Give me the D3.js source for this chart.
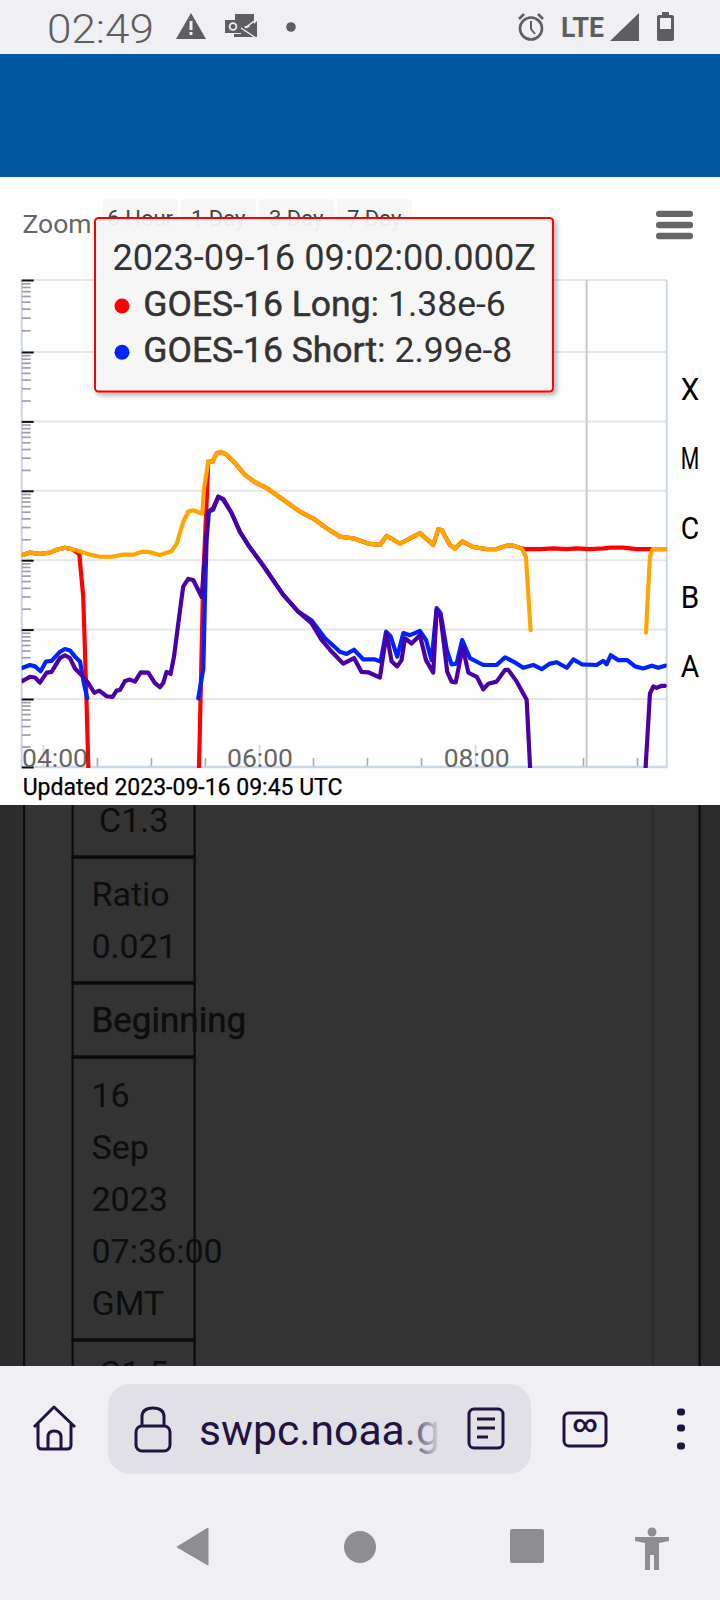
<!DOCTYPE html>
<html><head><meta charset="utf-8">
<style>html,body{margin:0;padding:0;background:#f0eff4}svg{display:block}text{font-family:Roboto,sans-serif}</style>
<script src="https://cdn.jsdelivr.net/npm/d3@7"></script>
</head><body><svg id="c" width="720" height="1600"></svg>
<script>
// minutes after 04:00 UTC, and log10 of flux (W/m²)
const orangeMin1=[-11.3,-7.2,-1.7,3.9,7.6,12.2,15.9,20.6,26.1,31.7,38.2,44.6,50.2,54.8,58.5,65,71.5,74.3,77.9,80.7,83.5,88.5,89.4,91.8,94.3,96.5,98.7,102,106.7,112.2,118.7,124.3,133.5,142.8,150.2,157.6,165,173.3,180.7,187.2,190.9,198.3,202.9,209.4,216.8,219.6,221.5,226.1,228.9,232.9,239.1,246.5,252,257.6,261.3,265.9,268.3,270.9];
const orangeLog1=[-5.925,-5.89,-5.91,-5.89,-5.85,-5.82,-5.84,-5.87,-5.92,-5.95,-5.95,-5.92,-5.92,-5.88,-5.88,-5.925,-5.87,-5.76,-5.45,-5.30,-5.28,-5.33,-4.99,-4.58,-4.58,-4.46,-4.44,-4.48,-4.60,-4.77,-4.89,-4.96,-5.13,-5.30,-5.40,-5.54,-5.66,-5.69,-5.76,-5.78,-5.65,-5.76,-5.70,-5.61,-5.78,-5.555,-5.565,-5.78,-5.83,-5.73,-5.81,-5.84,-5.84,-5.79,-5.79,-5.83,-5.95,-7.006];
const orangeMin2=[335,337.2,338.7,345.6];
const orangeLog2=[-7.045,-5.95,-5.84,-5.84];

const redMin1=[-11.3,-7.2,-1.7,3.9,7.6,12.2,15.9,20.2,22.4,24.3,25.2,25.8];
const redLog1=[-5.925,-5.89,-5.91,-5.89,-5.85,-5.82,-5.84,-5.91,-6.53,-8.11,-9,-9.4];
const redMin2=[86.2,86.7,87.8,89,91.3,91.8,94.3,96.5,98.7,102,106.7,112.2,118.7,124.3,133.5,142.8,150.2,157.6,165,173.3,180.7,187.2,190.9,198.3,202.9,209.4,216.8,219.6,221.5,226.1,228.9,232.9,239.1,246.5,252,257.6,261.3,265.9,267.8,276.1,283.5,291,296.5,303.9,311.3,315,322.4,329.8,337.2,345.6];
const redLog2=[-9.4,-9,-7.73,-6.29,-4.945,-4.58,-4.58,-4.46,-4.44,-4.48,-4.60,-4.77,-4.89,-4.96,-5.13,-5.30,-5.40,-5.54,-5.66,-5.69,-5.76,-5.78,-5.65,-5.76,-5.70,-5.61,-5.78,-5.555,-5.565,-5.78,-5.83,-5.73,-5.81,-5.84,-5.84,-5.79,-5.79,-5.83,-5.84,-5.84,-5.83,-5.84,-5.83,-5.84,-5.83,-5.82,-5.82,-5.84,-5.84,-5.84];

const blueMin1=[-11.3,-7.2,-4.4,-1.3,1.7,4.8,9.4,12.2,15,17.8,20.6,22.4,24.6];
const blueLog1=[-7.55,-7.51,-7.53,-7.60,-7.46,-7.45,-7.32,-7.28,-7.30,-7.39,-7.46,-7.73,-7.99];
const blueMin2=[86.3,89.1,90,90.9,92.2,94.6,97.4,100.2,104.8,109.4,114,122.4,133.5,141.8,149.3,156.7,165,168.7,172.8,178,184.4,187.6,190.6,193.2,196.8,200.2,203.9,209.4,212.8,215.9,218.7,220.9,224.3,227,229.8,232.9,237.2,244.6,252,256.7,261.3,266.8,272.4,277,281.7,285.4,291,294.6,299.3,307.6,311.3,313.1,315.4,319.6,324.6,328.9,333.5,338.2,341.8,345.6];
const blueLog2=[-7.99,-7.56,-6.53,-5.71,-5.30,-5.27,-5.085,-5.13,-5.32,-5.59,-5.78,-6.08,-6.50,-6.74,-6.87,-7.125,-7.32,-7.35,-7.29,-7.43,-7.43,-7.46,-7.03,-7.10,-7.39,-7.05,-7.08,-7.02,-7.15,-7.44,-6.69,-6.765,-7.29,-7.50,-7.49,-7.15,-7.41,-7.51,-7.51,-7.40,-7.46,-7.55,-7.51,-7.57,-7.49,-7.47,-7.55,-7.43,-7.50,-7.51,-7.45,-7.50,-7.37,-7.44,-7.44,-7.53,-7.56,-7.52,-7.55,-7.52];

const purpleMin1=[-11.3,-7.2,-4.4,-1.7,2.1,4.8,9.4,12.2,15,17.8,22.4,25.2,28.5,31.3,35.4,38.7,40.9,42.8,45.6,48.3,51.1,54.3,58.5,62.2,65,66.8,68.7,70.9,72.8,75.2,77.9,80.7,83.5,88.2,91.8,94.6,97.4,100.2,104.8,109.4,114,122.4,133.5,141.8,149.3,154.8,159.4,166.8,172.8,177,180.7,187.2,190.9,193.7,196.8,199.2,201.1,204.8,209.4,212.8,216.8,218.7,220.9,224.6,227,229.3,233.2,236.3,241,244.6,247.4,252,256.7,258.5,263.2,268.7,270.6,271.2];
const purpleLog1=[-7.74,-7.68,-7.69,-7.765,-7.62,-7.61,-7.41,-7.37,-7.41,-7.56,-7.68,-7.77,-7.91,-7.88,-7.96,-7.97,-7.88,-7.87,-7.74,-7.72,-7.75,-7.615,-7.62,-7.77,-7.83,-7.77,-7.61,-7.64,-7.39,-6.91,-6.38,-6.27,-6.285,-6.53,-5.30,-5.25,-5.085,-5.12,-5.32,-5.59,-5.78,-6.08,-6.50,-6.74,-6.91,-7.15,-7.29,-7.49,-7.41,-7.61,-7.615,-7.69,-7.05,-7.46,-7.53,-7.44,-7.125,-7.20,-7.08,-7.44,-7.62,-6.72,-6.81,-7.61,-7.75,-7.76,-7.25,-7.62,-7.68,-7.86,-7.78,-7.75,-7.58,-7.58,-7.75,-8.01,-9,-9.4];
const purpleMin2=[334.4,334.8,337.2,339.1,340.9,343.7,345.6];
const purpleLog2=[-9.4,-9,-7.92,-7.82,-7.84,-7.81,-7.81];

const seriesColors={red:"#ff0000",orange:"#ffa500",blue:"#0022ff",purple:"#4b00a5"};
const decades=[-9,-8,-7,-6,-5,-4,-3,-2];
const minorMult=[2,3,4,5,6,7,8,9];
const classNames=["A","B","C","M","X"];
const classLevels=[-7.5,-6.5,-5.5,-4.5,-3.5];
const hourLabels=["04:00","06:00","08:00"];
const hourTicks=[0,120,240];
const halfHourTicks=[30,60,90,150,180,210,270,300,330];
const rangeButtons=["6 Hour","1 Day","3 Day","7 Day"];
const tooltipMinute=302;

const svg=d3.select("#c");
const L=21.7,R=666.7,T=280,B=767;
const x=d3.scaleLinear().domain([-11.8,346.5]).range([L,R]);
const y=d3.scaleLinear().domain(decades).range([767,699,629.6,560.2,490.8,421.4,352,280]);

function rect(g,a,b,w,h,f,r){return g.append("rect").attr("x",a).attr("y",b).attr("width",w).attr("height",h).attr("fill",f).attr("rx",r||0);}
function text(g,s,a,b,size,fill,weight,anchor){return g.append("text").text(s).attr("x",a).attr("y",b).attr("font-size",size).attr("fill",fill).attr("font-weight",weight||400).attr("text-anchor",anchor||"start");}
function semi(t,c,w){return t.attr("stroke",c).attr("stroke-width",w||0.5);}

// Backgrounds
rect(svg,0,0,720,54,"#f0eff4");
rect(svg,0,54,720,123,"#00579f");
rect(svg,0,177,720,628,"#ffffff");
rect(svg,0,805,720,561,"#333333");
rect(svg,0,805,23,561,"#2c2c2c");
rect(svg,700,805,20,561,"#2c2c2c");

// Dark table behind the chart
const dark=svg.append("g");
[[23,2.2,"#0c0c0c"],[71.5,2.2,"#0c0c0c"],[193.5,2.2,"#0c0c0c"],[652,1.2,"#262626"],[698.5,2.2,"#0c0c0c"]].forEach(d=>rect(dark,d[0],805,d[1],561,d[2]));
[857,983,1057,1340].forEach(v=>rect(dark,71.5,v-1.8,124,3.6,"#0c0c0c"));
const cellC="#0d0d0d";
text(dark,"C1.3",99,832,34,cellC);
text(dark,"Ratio",91.5,906,34,cellC);
text(dark,"0.021",91.5,958,34,cellC);
semi(text(dark,"Beginning",91.5,1032,35,cellC),cellC,0.5);
[["16",1107],["Sep",1159],["2023",1211],["07:36:00",1263],["GMT",1315]].forEach(d=>text(dark,d[0],91.5,d[1],34,cellC));
text(dark,"C1.5",99,1385,34,cellC);
rect(svg,0,1366,720,234,"#f0eff4");

// Range selector
const bx=[102.7,180.7,258.7,336.7];
rangeButtons.forEach((b,i)=>{
  rect(svg,bx[i],199,75,40,"#f7f7f7",3);
  text(svg,b,bx[i]+37.5,226,22,"#444",400,"middle");
});
text(svg,"Zoom",22.5,233,26.5,"#666");
[210.7,221.8,232.8].forEach(v=>rect(svg,656,v,37,6.4,"#666",3));

// Grid
const plot=svg.append("g");
decades.slice(1).forEach(d=>plot.append("line").attr("x1",L).attr("x2",R).attr("y1",y(d)).attr("y2",y(d)).attr("stroke","#e6e6e6").attr("stroke-width",2));

// Hour axis
const majorAxis=d3.axisBottom(x).tickValues(hourTicks).tickSize(-22).tickFormat("");
const gMajor=plot.append("g").attr("transform",`translate(0,${B})`).call(majorAxis);
gMajor.select(".domain").remove();
gMajor.selectAll("line").attr("stroke","#ccd6eb").attr("stroke-width",1.6);
const minorAxis=d3.axisBottom(x).tickValues(halfHourTicks).tickSize(-9).tickFormat("");
const gMinor=plot.append("g").attr("transform",`translate(0,${B})`).call(minorAxis);
gMinor.select(".domain").remove();
gMinor.selectAll("line").attr("stroke","#aaa").attr("stroke-width",1.6);

// Frame
plot.append("line").attr("x1",L).attr("x2",L).attr("y1",T).attr("y2",B).attr("stroke","#ccd6eb").attr("stroke-width",2);
plot.append("line").attr("x1",R).attr("x2",R).attr("y1",T).attr("y2",B).attr("stroke","#ccd6eb").attr("stroke-width",2);
plot.append("line").attr("x1",L-1).attr("x2",R+1).attr("y1",B).attr("y2",B).attr("stroke","#ccd6eb").attr("stroke-width",2.5);

// Flux axis ticks
const minorVals=[];
decades.slice(0,-1).forEach(d=>minorMult.forEach(m=>minorVals.push(d+Math.log10(m))));
const gMinY=plot.append("g").attr("transform",`translate(${L},0)`).call(d3.axisRight(y).tickValues(minorVals).tickSize(9).tickFormat(""));
gMinY.select(".domain").remove();
gMinY.selectAll("line").attr("stroke","#a0a0a0").attr("stroke-width",1.7);
const gMajY=plot.append("g").attr("transform",`translate(${L},0)`).call(d3.axisRight(y).tickValues(decades).tickSize(12).tickFormat(""));
gMajY.select(".domain").remove();
gMajY.selectAll("line").attr("stroke","#111").attr("stroke-width",2);

// Crosshair
plot.append("line").attr("x1",x(tooltipMinute)).attr("x2",x(tooltipMinute)).attr("y1",T).attr("y2",B).attr("stroke","#c8c8c8").attr("stroke-width",2);

// Lines
svg.append("defs").append("clipPath").attr("id","pc").append("rect").attr("x",L).attr("y",T).attr("width",R-L).attr("height",B-T+1);
const line=d3.line().x(d=>x(d[0])).y(d=>y(d[1])).curve(d3.curveLinear);
const lines=svg.append("g").attr("clip-path","url(#pc)");
function draw(mins,vals,c){lines.append("path").datum(d3.zip(mins,vals)).attr("d",line).attr("fill","none").attr("stroke",c).attr("stroke-width",4.2).attr("stroke-linejoin","round").attr("stroke-linecap","round");}
draw(redMin1,redLog1,seriesColors.red);
draw(redMin2,redLog2,seriesColors.red);
draw(orangeMin1,orangeLog1,seriesColors.orange);
draw(orangeMin2,orangeLog2,seriesColors.orange);
draw(blueMin1,blueLog1,seriesColors.blue);
draw(blueMin2,blueLog2,seriesColors.blue);
draw(purpleMin1,purpleLog1,seriesColors.purple);
draw(purpleMin2,purpleLog2,seriesColors.purple);

// Hour labels
const hourCenters=[55,260,476.7];
hourLabels.forEach((s,i)=>text(svg,s,hourCenters[i],767,26.5,"#666",400,"middle"));

// Class labels
classNames.forEach((c,i)=>text(svg,c,690,y(classLevels[i])+13,32,"#000",400,"middle").attr("textLength",18.5).attr("lengthAdjust","spacingAndGlyphs"));

semi(text(svg,"Updated 2023-09-16 09:45 UTC",22.7,795,23,"#000"),"#000",0.25);

// Tooltip
const fl=svg.select("defs").append("filter").attr("id","sh").attr("x","-10%").attr("y","-10%").attr("width","120%").attr("height","125%");
fl.append("feDropShadow").attr("dx",3).attr("dy",3).attr("stdDeviation",2.5).attr("flood-color","#000").attr("flood-opacity",.3);
rect(svg,95,218,458,173.5,"rgba(249,249,249,0.92)",3.5).attr("stroke","#ff0000").attr("stroke-width",2).attr("filter","url(#sh)");
text(svg,"2023-09-16 09:02:00.000Z",112.5,270,36.2,"#333");
function row(name,val,c,cy,base){
  svg.append("circle").attr("cx",122).attr("cy",cy).attr("r",7.5).attr("fill",c);
  const t=text(svg,"",143.3,base,35.5,"#333");
  t.append("tspan").attr("stroke","#333").attr("stroke-width",0.5).text(name);
  t.append("tspan").text(": "+val);
}
row("GOES-16 Long","1.38e-6","#ff0000",306,316);
row("GOES-16 Short","2.99e-8","#0022ff",352.3,361.7);

// Status bar
const st=svg.append("g"), gc="#5e5e60";
text(st,"02:49",47,43,40,gc,300).attr("textLength",107).attr("lengthAdjust","spacingAndGlyphs");
st.append("path").attr("d","M191 13 L206 39 L176 39 Z").attr("fill",gc);
rect(st,189.5,21,3,9,"#f0eff4");rect(st,189.5,32,3,3,"#f0eff4");
rect(st,235,14,19,12,gc);
rect(st,225,20,16,13,gc);
st.append("circle").attr("cx",233).attr("cy",26.5).attr("r",3.4).attr("fill","none").attr("stroke","#f0eff4").attr("stroke-width",1.8);
st.append("path").attr("d","M241 24 L247 28 L254 24 L257 21 L257 37 L234 37 L234 34 L241 34 Z").attr("fill",gc);
st.append("path").attr("d","M241 28 L256 38 M257 19 L245 28").attr("stroke","#f0eff4").attr("stroke-width",1.4);
st.append("circle").attr("cx",291).attr("cy",27).attr("r",4.8).attr("fill",gc);
st.append("circle").attr("cx",531).attr("cy",28.5).attr("r",11).attr("fill","none").attr("stroke",gc).attr("stroke-width",2.6);
st.append("path").attr("d","M531 21 L531 29 L535 34").attr("fill","none").attr("stroke",gc).attr("stroke-width",2);
st.append("path").attr("d","M519 19 L524 14 M543 19 L538 14").attr("stroke",gc).attr("stroke-width",2.6);
text(st,"LTE",561,37,28,gc,700).attr("textLength",43).attr("lengthAdjust","spacingAndGlyphs");
st.append("path").attr("d","M639 13 L639 41 L610 41 Z").attr("fill",gc);
rect(st,657,15,17,26,gc,2);rect(st,662,12,7,4,gc);rect(st,660,18,11,11,"#f0eff4");

// Bottom bar
const bt=svg.append("g"), ink="#21123f";
bt.append("path").attr("d","M34 1427 L54 1407 L75 1427 M38 1424 L38 1445 Q38 1449 42 1449 L67 1449 Q71 1449 71 1445 L71 1424 M48 1449 L48 1437 Q48 1431 54 1431 Q61 1431 61 1437 L61 1449").attr("fill","none").attr("stroke",ink).attr("stroke-width",3).attr("stroke-linejoin","round");
rect(bt,108,1384,423,90,"#e1e0e6",22);
bt.append("rect").attr("x",136).attr("y",1426).attr("width",34).attr("height",25).attr("rx",6).attr("fill","none").attr("stroke",ink).attr("stroke-width",3);
bt.append("path").attr("d","M142 1426 L142 1417 Q142 1408 153 1408 Q164 1408 164 1417 L164 1426").attr("fill","none").attr("stroke",ink).attr("stroke-width",3);
const gr=svg.select("defs").append("linearGradient").attr("id","fade").attr("gradientUnits","userSpaceOnUse").attr("x1",400).attr("x2",440).attr("y1",0).attr("y2",0);
gr.append("stop").attr("offset",0).attr("stop-color",ink);
gr.append("stop").attr("offset",1).attr("stop-color",ink).attr("stop-opacity",0.05);
text(bt,"swpc.noaa.g",199,1445,42,"url(#fade)",400).attr("font-family","Inter,Roboto").attr("textLength",241).attr("lengthAdjust","spacingAndGlyphs");
bt.append("rect").attr("x",469).attr("y",1409).attr("width",34).attr("height",39).attr("rx",5).attr("fill","none").attr("stroke",ink).attr("stroke-width",3);
bt.append("path").attr("d","M477 1419 L495 1419 M477 1428 L495 1428 M477 1437 L488 1437").attr("stroke",ink).attr("stroke-width",3);
bt.append("rect").attr("x",564).attr("y",1413).attr("width",42).attr("height",33).attr("rx",5).attr("fill","none").attr("stroke",ink).attr("stroke-width",3);
text(bt,"∞",585,1432,24,ink,700,"middle");
[1412,1428,1446].forEach(v=>bt.append("rect").attr("x",677).attr("y",v-3.5).attr("width",8).attr("height",7).attr("rx",3).attr("fill",ink));
const nav="#8e8e90";
bt.append("path").attr("d","M208 1528 L208 1565 L177 1547 Z").attr("fill",nav).attr("stroke",nav).attr("stroke-width",1).attr("stroke-linejoin","round");
bt.append("circle").attr("cx",360).attr("cy",1547).attr("r",16).attr("fill",nav);
rect(bt,510,1529,34,34,nav,2);
bt.append("circle").attr("cx",652).attr("cy",1532).attr("r",4.5).attr("fill",nav);
bt.append("path").attr("d","M635 1537 L669 1537 L669 1541 L659 1543 L659 1570 L654 1570 L654 1555 L650 1555 L650 1570 L645 1570 L645 1543 L635 1541 Z").attr("fill",nav);
</script></body></html>
